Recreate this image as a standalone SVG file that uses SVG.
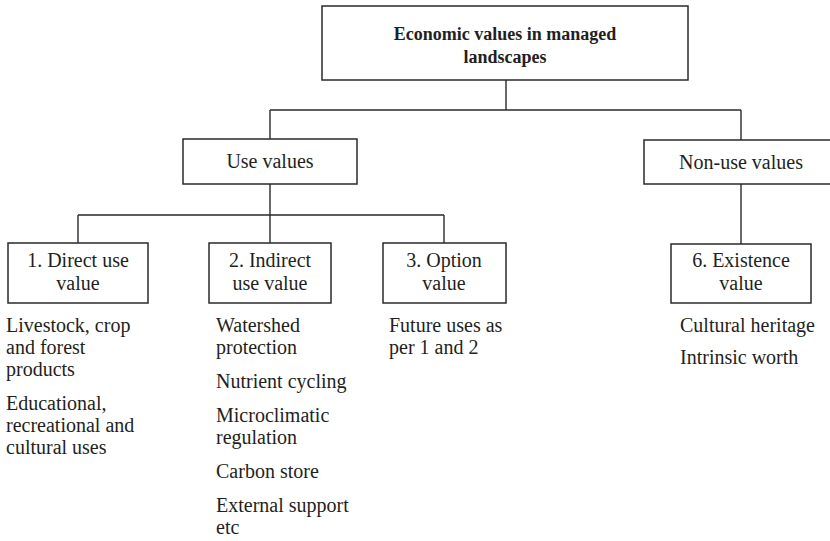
<svg xmlns="http://www.w3.org/2000/svg" width="830" height="541" viewBox="0 0 830 541">
<style>
.box{fill:#fff;stroke:#2a2a2a;stroke-width:1.5}
.ln{fill:none;stroke:#2a2a2a;stroke-width:1.4}
text{font-family:"Liberation Serif","Times New Roman",serif;font-size:20px;fill:#231f20}
.c{text-anchor:middle}
.b{font-weight:bold;font-size:18px}
</style>
<rect width="830" height="541" fill="#fff"/>
<g id="connectors">
<path class="ln" d="M506 80V110M270 110H741M270 110V139M741 110V140"/>
<path class="ln" d="M270 184V215M78 215H444M78 215V243M270 215V243M444 215V243"/>
<path class="ln" d="M741 184V244"/>
</g>
<g id="root">
<rect class="box" x="322" y="6" width="366" height="74"/>
<text class="c b" x="505" y="40">Economic values in managed</text>
<text class="c b" x="505" y="63">landscapes</text>
</g>
<g id="use">
<rect class="box" x="183" y="139" width="174" height="45"/>
<text class="c" x="270" y="168">Use values</text>
</g>
<g id="nonuse">
<rect class="box" x="644" y="140" width="194" height="44"/>
<text class="c" x="741" y="169">Non-use values</text>
</g>
<g id="direct">
<rect class="box" x="8" y="243" width="140" height="60"/>
<text class="c" x="78" y="267">1. Direct use</text>
<text class="c" x="78" y="290">value</text>
<text x="6" y="332">Livestock, crop</text>
<text x="6" y="354">and forest</text>
<text x="6" y="376">products</text>
<text x="6" y="410">Educational,</text>
<text x="6" y="432">recreational and</text>
<text x="6" y="454">cultural uses</text>
</g>
<g id="indirect">
<rect class="box" x="209" y="243" width="122" height="60"/>
<text class="c" x="270" y="267">2. Indirect</text>
<text class="c" x="270" y="290">use value</text>
<text x="216" y="332">Watershed</text>
<text x="216" y="354">protection</text>
<text x="216" y="388">Nutrient cycling</text>
<text x="216" y="422">Microclimatic</text>
<text x="216" y="444">regulation</text>
<text x="216" y="478">Carbon store</text>
<text x="216" y="512">External support</text>
<text x="216" y="534">etc</text>
</g>
<g id="option">
<rect class="box" x="383" y="243" width="123" height="60"/>
<text class="c" x="444" y="267">3. Option</text>
<text class="c" x="444" y="290">value</text>
<text x="389" y="332">Future uses as</text>
<text x="389" y="354">per 1 and 2</text>
</g>
<g id="existence">
<rect class="box" x="671" y="244" width="140" height="59"/>
<text class="c" x="741" y="267">6. Existence</text>
<text class="c" x="741" y="290">value</text>
<text x="680" y="332">Cultural heritage</text>
<text x="680" y="364">Intrinsic worth</text>
</g>
</svg>
